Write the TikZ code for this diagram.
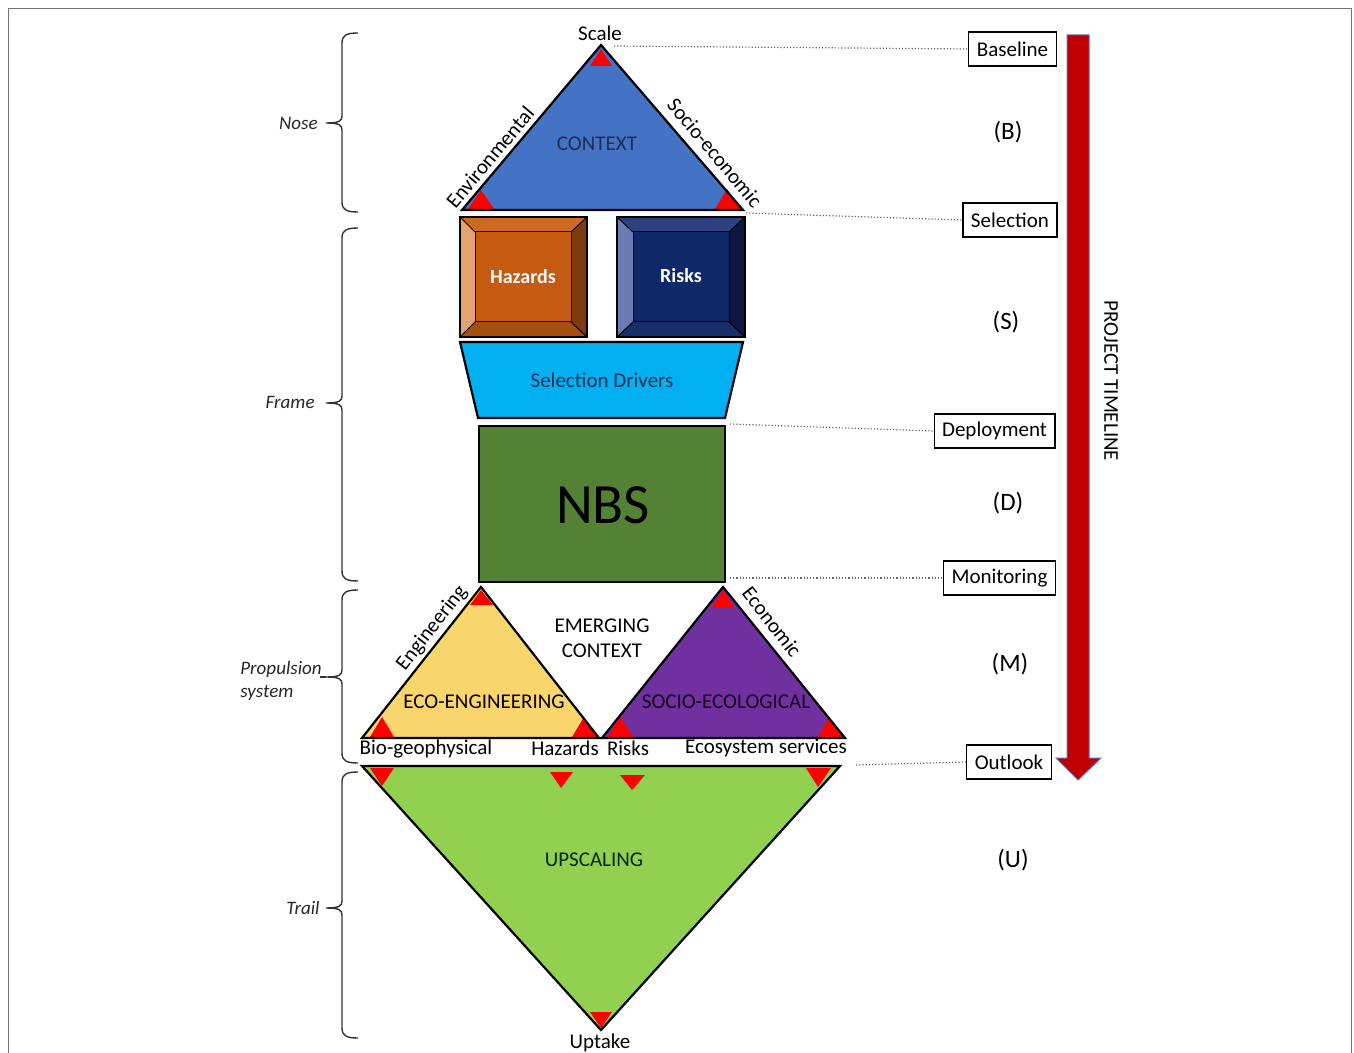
\documentclass[tikz,border=0pt]{standalone}
\usepackage{fontspec}
\setmainfont{Carlito}
\definecolor{ctxblue}{HTML}{4472C4}
\definecolor{hzc}{HTML}{C55A11}
\definecolor{hzt}{HTML}{CC6A22}
\definecolor{hzl}{HTML}{E2A272}
\definecolor{hzr}{HTML}{7E3A0C}
\definecolor{hzb}{HTML}{A44E10}
\definecolor{rkc}{HTML}{0F2868}
\definecolor{rkt}{HTML}{2C4280}
\definecolor{rkl}{HTML}{6A7CB2}
\definecolor{rkr}{HTML}{0A1740}
\definecolor{rkb}{HTML}{182E68}
\definecolor{seldr}{HTML}{00B0F0}
\definecolor{nbsg}{HTML}{548235}
\definecolor{ecoy}{HTML}{F9D66B}
\definecolor{socp}{HTML}{7030A0}
\definecolor{upg}{HTML}{92D050}
\definecolor{arrred}{HTML}{C00000}
\definecolor{arredge}{HTML}{5B6FB0}
\definecolor{navytxt}{HTML}{1F2D55}
\newcommand\sidebrace[3]{%
  \draw[bracel] (358,#1) .. controls (347,#1) and (342,#1+2) .. (342,#1+10)
    -- (342,#2-7) .. controls (342,#2-2) and (339,#2) .. (326,#2)
    .. controls (339,#2) and (342,#2+2) .. (342,#2+7)
    -- (342,#3-10) .. controls (342,#3-2) and (347,#3) .. (358,#3);}
\begin{document}
\begin{tikzpicture}[x=0.5pt,y=-0.5pt,
  outl/.style={draw=black,line width=1.1pt,line join=miter},
  thin/.style={draw=black,line width=0.5pt},
  redm/.style={fill=red,draw=none},
  tl/.style={font=\fontsize{10.5}{12.5}\selectfont,inner sep=0pt},
  phase/.style={font=\fontsize{12.5}{14}\selectfont,inner sep=0pt},
  sidel/.style={font=\fontsize{9.5}{11.5}\selectfont\itshape,inner sep=0pt,text=black!85},
  tbox/.style={draw=black,line width=0.6pt,inner xsep=4pt,inner ysep=0pt,minimum height=17pt,font=\fontsize{10.5}{12.5}\selectfont,fill=white},
  dotl/.style={draw=black!60,densely dotted,line width=0.6pt},
  bracel/.style={draw=black!80,line width=0.7pt}]
\useasboundingbox (0,0) rectangle (1354,1053);
% outer frame
\draw[black!55,line width=0.5pt] (8,1060) -- (8,9) -- (1351,9) -- (1351,1060);

% ---------- CONTEXT triangle ----------
\coordinate (ctxtop) at (601,45);
\coordinate (ctxl) at (462,210);
\coordinate (ctxr) at (743,210);
\fill[ctxblue] (ctxtop) -- (ctxl) -- (ctxr) -- cycle;
\fill[redm] (601,49) -- (590,66) -- (612,66) -- cycle;
\fill[redm] (481,190) -- (468,209) -- (494,209) -- cycle;
\fill[redm] (727,189) -- (715,209) -- (740,209) -- cycle;
\draw[outl] (ctxtop) -- (ctxl) -- (ctxr) -- cycle;
\node[tl,text=navytxt] (context) at (597,144) {CONTEXT};
\node[tl,anchor=south] (scale) at (600,41) {Scale};
\node[tl,rotate=50] (env) at (490,157) {Environmental};
\node[tl,rotate=-50] (socio) at (715,153) {Socio-economic};

% ---------- Hazards bevel box ----------
\fill[hzc] (475,232) rectangle (571,322);
\fill[hzt] (460,217) -- (587,217) -- (571,232) -- (475,232) -- cycle;
\fill[hzl] (460,217) -- (475,232) -- (475,322) -- (460,337) -- cycle;
\fill[hzr] (587,217) -- (587,337) -- (571,322) -- (571,232) -- cycle;
\fill[hzb] (460,337) -- (587,337) -- (571,322) -- (475,322) -- cycle;
\draw[thin] (475,232) rectangle (571,322);
\draw[thin] (460,217) -- (475,232) (587,217) -- (571,232) (460,337) -- (475,322) (587,337) -- (571,322);
\draw[outl] (460,217) rectangle (587,337);
\node[tl,text=white,font=\fontsize{10}{12}\selectfont\bfseries] (hazards) at (523,277) {Hazards};

% ---------- Risks bevel box ----------
\fill[rkc] (633,232) rectangle (729,322);
\fill[rkt] (617,217) -- (745,217) -- (729,232) -- (633,232) -- cycle;
\fill[rkl] (617,217) -- (633,232) -- (633,322) -- (617,337) -- cycle;
\fill[rkr] (745,217) -- (745,337) -- (729,322) -- (729,232) -- cycle;
\fill[rkb] (617,337) -- (745,337) -- (729,322) -- (633,322) -- cycle;
\draw[thin] (633,232) rectangle (729,322);
\draw[thin] (617,217) -- (633,232) (745,217) -- (729,232) (617,337) -- (633,322) (745,337) -- (729,322);
\draw[outl] (617,217) rectangle (745,337);
\node[tl,text=white,font=\fontsize{10}{12}\selectfont\bfseries] (risks) at (681,276) {Risks};

% ---------- Selection drivers ----------
\filldraw[fill=seldr,outl] (460,342) -- (743,342) -- (725,418) -- (478,418) -- cycle;
\node[tl,text=navytxt] (seld) at (602,380) {Selection Drivers};

% ---------- NBS ----------
\filldraw[fill=nbsg,outl] (479,426) rectangle (725,582);
\coordinate (nbstr) at (730,424);
\coordinate (nbsbr) at (730,578);
\node[inner sep=0pt,font=\fontsize{28.5}{30}\selectfont] (nbs) at (603,505) {NBS};

% ---------- Eco-engineering / Socio-ecological ----------
\fill[ecoy] (481,587) -- (362,738) -- (599,738) -- cycle;
\fill[socp] (723,587) -- (602,738) -- (845,738) -- cycle;
\fill[redm] (481,590) -- (470,605) -- (493,605) -- cycle;
\fill[redm] (382,717) -- (370,737) -- (394,737) -- cycle;
\fill[redm] (584,717) -- (572,737) -- (597,737) -- cycle;
\fill[redm] (723,590) -- (712,607) -- (734,607) -- cycle;
\fill[redm] (620,717) -- (608,737) -- (633,737) -- cycle;
\fill[redm] (829,717) -- (818,737) -- (842,737) -- cycle;
\draw[outl] (481,587) -- (362,738) -- (599,738) -- cycle;
\draw[outl] (723,587) -- (602,738) -- (845,738) -- cycle;
\draw[outl] (362,738) -- (845,738);
\node[tl] (ecoeng) at (484,702) {ECO-ENGINEERING};
\node[tl,text=black!85!socp] (socioeco) at (726,702) {SOCIO-ECOLOGICAL};
\node[tl,align=center,font=\fontsize{10.5}{12.5}\selectfont] (emerg) at (602,638) {EMERGING\\CONTEXT};
\node[tl,rotate=52] (engin) at (432,628) {Engineering};
\node[tl,rotate=-52] (econ) at (772,622) {Economic};
\node[tl] (biogeo) at (426,749) {Bio-geophysical};
\node[tl] (hazlbl) at (565,748) {Hazards};
\node[tl] (risklbl) at (628,748) {Risks};
\node[tl] (ecoserv) at (766,748) {Ecosystem services};

% ---------- UPSCALING ----------
\coordinate (upl) at (362,766);
\coordinate (upr) at (840,766);
\coordinate (upb) at (601,1030);
\fill[upg] (upl) -- (upr) -- (upb) -- cycle;
\fill[redm] (370,768) -- (394,768) -- (382,786) -- cycle;
\fill[redm] (550,772) -- (573,772) -- (561,788) -- cycle;
\fill[redm] (620,775) -- (645,775) -- (632,790) -- cycle;
\fill[redm] (806,768) -- (831,768) -- (818,787) -- cycle;
\fill[redm] (590,1012) -- (612,1012) -- (601,1028) -- cycle;
\draw[outl] (upl) -- (upr) -- (upb) -- cycle;
\node[tl,text=black!85!green] (upsc) at (594,860) {UPSCALING};
\node[tl,anchor=north] (uptake) at (600,1034) {Uptake};

% ---------- Right-hand milestones ----------
\node[tbox] (baseline) at (1012.5,49) {Baseline};
\node[tbox] (selection) at (1010,220) {Selection};
\node[tbox] (deploy) at (994.5,431) {Deployment};
\node[tbox] (monit) at (999.5,578) {Monitoring};
\node[tbox] (outlook) at (1009,762) {Outlook};
\coordinate (scaleend) at (614,46);
\coordinate (ctxend) at (746,213);
\coordinate (outend) at (856,765);
\draw[dotl] (scaleend) -- (baseline.west);
\draw[dotl] (ctxend) -- (selection.west);
\draw[dotl] (nbstr) -- (deploy.west);
\draw[dotl] (nbsbr) -- (monit.west);
\draw[dotl] (outend) -- (outlook.west);

\node[phase] (pB) at (1008,132) {(B)};
\node[phase] (pS) at (1006,322) {(S)};
\node[phase] (pD) at (1008,503) {(D)};
\node[phase] (pM) at (1010,664) {(M)};
\node[phase] (pU) at (1013,860) {(U)};

% ---------- Timeline arrow ----------
\filldraw[fill=arrred,draw=arredge,line width=0.5pt]
  (1067,35) -- (1089,35) -- (1089,758) -- (1101,758) -- (1078,780) -- (1056,758) -- (1067,758) -- cycle;
\node[tl,rotate=-90,font=\fontsize{10.5}{12}\selectfont] (ptl) at (1111,381) {PROJECT TIMELINE};

% ---------- Left braces ----------
\sidebrace{33}{123}{212}
\sidebrace{228}{403}{581}
\sidebrace{590}{677}{763}
\sidebrace{772}{908}{1038}
\node[sidel,anchor=east] (nose) at (318,123) {Nose};
\node[sidel,anchor=east] (frame) at (315,402) {Frame};
\node[sidel,anchor=west,align=left,font=\fontsize{9.5}{11.5}\selectfont\itshape] (prop) at (240,681) {Propulsion\\system};
\draw[bracel] (prop.north east |- 0,677) ++(-2,0) -- (326,677);
\node[sidel,anchor=east] (trail) at (320,908) {Trail};
\end{tikzpicture}
\end{document}
